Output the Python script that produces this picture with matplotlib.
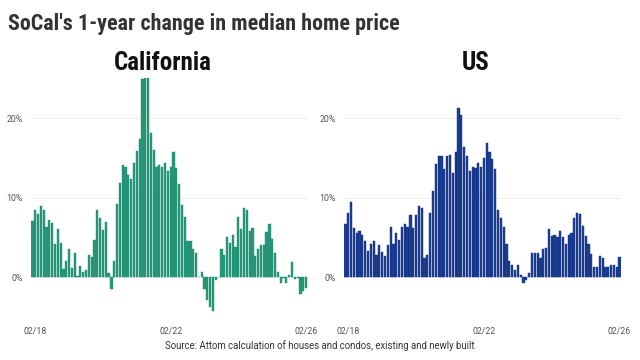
import numpy as np
import matplotlib.pyplot as plt
from matplotlib import font_manager

# monthly, Jan 2018 - Feb 2026 (98 months), 1-year change in %
CALIFORNIA = [
    7.1, 8.5, 7.9, 8.9, 8.4, 6.3, 7.2, 6.8, 4.2, 6.0, 4.3, 1.0,
    2.1, 3.5, 1.1, 3.0, 0.1, 1.4, 0.7, 0.9, 2.8, 2.6, 4.7, 8.5,
    7.4, 5.9, 7.0, 0.5, -1.5, 2.0, 9.2, 11.9, 14.1, 13.8, 12.9, 12.3,
    14.4, 15.9, 17.4, 24.9, 25.0, 25.0, 18.1, 16.0, 13.9, 14.1, 13.8, 14.4,
    13.3, 13.8, 15.7, 13.7, 11.7, 9.1, 7.6, 4.5, 4.5, 3.6, 3.0, 0.05,
    0.7, -1.5, -2.8, -3.8, -4.3, -0.3, 0.05, 3.6, 2.8, 5.1, 4.3, 5.3,
    3.8, 7.6, 6.0, 8.7, 8.4, 5.8, 6.2, 2.7, 3.5, 4.1, 4.0, 5.7,
    6.7, 4.8, 3.1, 0.6, -0.75, -0.1, -0.7, 0.25, 1.9, -0.2, -0.1, -2.1,
    -1.7, -1.3,
]
US = [
    6.65, 8.1, 9.45, 6.2, 5.5, 5.8, 5.3, 4.5, 3.35, 4.2, 4.6, 2.8,
    4.0, 3.2, 2.7, 4.05, 6.3, 4.2, 5.5, 4.7, 6.3, 6.7, 6.3, 7.8,
    6.15, 7.8, 8.9, 8.7, 2.4, 2.8, 8.1, 10.8, 14.2, 15.2, 15.2, 13.6,
    15.2, 15.3, 13.1, 15.7, 21.3, 20.4, 16.4, 15.2, 13.3, 13.9, 13.7, 14.4,
    13.9, 15.0, 16.9, 15.7, 14.9, 13.6, 8.5, 7.5, 6.35, 4.2, 2.0, 1.5,
    0.9, 1.6, 0.3, -0.75, -0.4, 0.5, 3.0, 3.0, 3.05, 2.4, 3.6, 3.65,
    6.1, 5.2, 5.25, 5.0, 5.8, 5.1, 4.2, 5.3, 5.6, 7.5, 8.1, 8.0,
    6.4, 5.2, 4.2, 2.9, 1.3, 1.3, 2.7, 2.4, 1.3, 1.3, 1.5, 1.6,
    1.3, 2.5,
]
XTICK_LABELS = ["02/18", "02/22", "02/26"]
XTICK_MONTHS = [1, 49, 97]
YTICKS = [0, 10, 20]
YTICK_LABELS = ["0%", "10%", "20%"]

TITLE = "SoCal's 1-year change in median home price"
SOURCE = "Source: Attom calculation of houses and condos, existing and newly built"

GREEN = "#27997a"
BLUE = "#1d3f96"


def pick_font(names):
    installed = {f.name for f in font_manager.fontManager.ttflist}
    for name in names:
        if name in installed:
            return name
    return "DejaVu Sans"


def draw_panel(ax, values, color, edge):
    x = np.arange(len(values))
    ax.bar(x, values, width=0.78, color=color, edgecolor=edge, linewidth=0.3)
    ax.set_xlim(-0.5, len(values) - 0.5)
    ax.set_ylim(-5.5, 25.0)
    ax.set_yticks(YTICKS)
    ax.set_yticklabels(YTICK_LABELS)
    ax.set_xticks(XTICK_MONTHS)
    ax.set_xticklabels(XTICK_LABELS)
    ax.tick_params(length=0, labelsize=6.3, labelcolor="#555555")
    ax.tick_params(axis="y", pad=6)
    ax.tick_params(axis="x", pad=4)
    ax.grid(axis="y", color="#ececec", linewidth=0.7)
    ax.set_axisbelow(True)
    for side in ax.spines.values():
        side.set_visible(False)


def main():
    narrow = pick_font(["Liberation Sans Narrow", "Roboto Condensed", "Roboto"])
    plt.rcParams["font.family"] = ["Roboto", "DejaVu Sans"]

    fig = plt.figure(figsize=(6.4, 3.6), dpi=100)
    ax_ca = fig.add_axes([31 / 640, 1 - 321 / 360, 276.5 / 640, 242.7 / 360])
    ax_us = fig.add_axes([344 / 640, 1 - 321 / 360, 277 / 640, 242.7 / 360])

    draw_panel(ax_ca, CALIFORNIA, GREEN, "#1f8a6c")
    draw_panel(ax_us, US, BLUE, "#102a72")

    fig.text(8 / 640, 1 - 30 / 360, TITLE, family=narrow, fontweight="bold",
             fontsize=15.8, color="#333333", ha="left", va="baseline")
    fig.text(163 / 640, 1 - 70 / 360, "California", family=narrow,
             fontweight="bold", fontsize=18, color="#111111",
             ha="center", va="baseline")
    fig.text(476 / 640, 1 - 70 / 360, "US", family=narrow,
             fontweight="bold", fontsize=18, color="#111111",
             ha="center", va="baseline")
    fig.text(320 / 640, 1 - 349 / 360, SOURCE, fontsize=6.9, color="#333333",
             ha="center", va="baseline")

    fig.savefig("out.png", dpi=100)


if __name__ == "__main__":
    main()
